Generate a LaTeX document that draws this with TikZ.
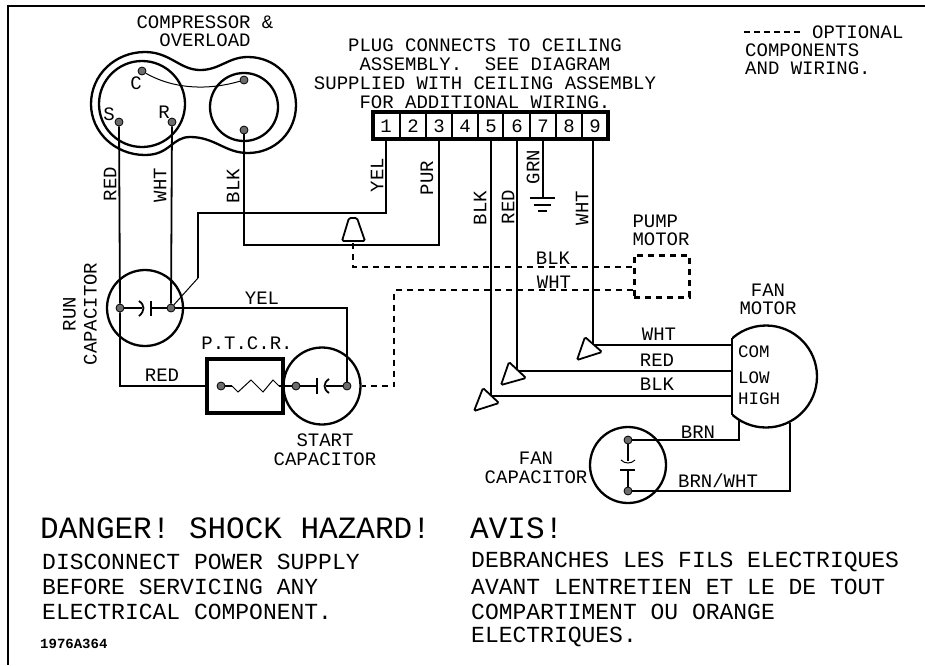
\documentclass[tikz,border=0pt]{standalone}
\usepackage{fontspec}
\setmainfont{Liberation Mono}
\usetikzlibrary{calc,arrows}
\tikzset{
  wire/.style={line width=1.8pt},
  thinwire/.style={line width=1pt},
  opt/.style={line width=1.8pt,dash pattern=on 6pt off 5pt},
  lobe/.style={circle,draw,line width=2.3pt,inner sep=0pt},
  term/.style={circle,draw,line width=0.8pt,fill=gray!85!black,inner sep=0pt,minimum size=8pt},
  plug/.style={line width=1.8pt,rounded corners=1.5pt,fill=white},
  lbl/.style={inner sep=0pt,font=\fontsize{19}{20}\selectfont,align=center},
  sidelbl/.style={lbl,rotate=90},
  motorlbl/.style={lbl,anchor=west,font=\fontsize{17.5}{19}\selectfont},
  warn/.style={inner sep=0pt,anchor=west,font=\fontsize{23}{25}\selectfont},
  warnbig/.style={inner sep=0pt,anchor=west,font=\fontsize{31}{33}\selectfont},
}
\begin{document}
\begin{tikzpicture}[x=1pt,y=-1pt]
  \useasboundingbox (0,0) rectangle (925,665);
  % frame
  \coordinate (fa) at (925,6);
  \coordinate (fb) at (8,6);
  \coordinate (fc) at (8,665);
  \draw[line width=2.4pt] (fa) -- (fb) -- (fc);
  % compressor
  \draw[line width=2.3pt] (145,52) .. controls (170,52) and (180,70) .. (200,70)
    .. controls (220,70) and (228,57) .. (248,57)
    .. controls (275,57) and (296,78) .. (296,105)
    .. controls (296,132) and (275,153) .. (248,153)
    .. controls (225,153) and (215,137) .. (190,137)
    .. controls (172,137) and (170,155) .. (145,155)
    .. controls (115,155) and (91,132) .. (91,104)
    .. controls (91,75) and (115,52) .. (145,52) -- cycle;
  \node[lobe,minimum size=86pt](compl)at(142,104){};
  \node[lobe,minimum size=68pt](compr)at(244,107){};
  \node[term](tc)at(142,71){};
  \node[term](ts)at(119,122){};
  \node[term](tr)at(172,122){};
  \node[term](tp)at(244,80){};
  \node[term](tb)at(244,130){};
  \draw[thinwire] (tc) .. controls (175,90) and (210,90) .. (tp);
  % capacitors
  \node[lobe,minimum size=76pt](runcap)at(145,308){};
  \node[term](rl)at(120,308){};
  \node[term](rr)at(171,308){};
  \node[lobe,minimum size=77pt](startcap)at(322,386){};
  \node[term](sl)at(296,386){};
  \node[term](sr)at(347,386){};
  \node[lobe,minimum size=76pt](fancap)at(628,465){};
  \node[term](ft)at(628,440){};
  \node[term](fb2)at(628,491){};
  % capacitor plates
  \coordinate (rp) at (151,308);
  \coordinate (rq) at (142,308);
  \draw[wire] (rl) -- (rq);
  \draw[wire] (rp) -- (rr);
  \draw[wire] (151,301) -- (151,316);
  \draw[wire] (139,301) .. controls (145,305) and (145,311) .. (139,316);
  \coordinate (sp) at (317,386);
  \coordinate (sq) at (326,386);
  \draw[wire] (sl) -- (sp);
  \draw[wire] (sq) -- (sr);
  \draw[wire] (317,378) -- (317,394);
  \draw[wire] (329,379) .. controls (323,383) and (323,389) .. (329,393);
  \coordinate (fp) at (628,470);
  \coordinate (fq) at (628,461);
  \draw[wire] (ft) -- (fq);
  \draw[wire] (fp) -- (fb2);
  \draw[wire] (620,470) -- (635,470);
  \draw[thinwire] (621,460) .. controls (625,464) and (631,464) .. (635,460);
  % ptcr
  \node[draw,line width=3.4pt,minimum width=76pt,minimum height=54pt,inner sep=0pt](ptcr)at(245,386){};
  \node[term](pl)at(221,386){};
  \draw[wire] (pl) -- (232,386);
  \draw[thinwire,line cap=round] (232,386) -- (238,392) -- (251,380) -- (263,392) -- (273,380) -- (279,386);
  \draw[wire] (279,386) -- (sl);
  % plug strip
  \node[draw,line width=3.2pt,minimum width=235pt,minimum height=27pt,inner sep=0pt](strip)at(490.5,125.5){};
  \foreach \dv in {400,426,452,478,503,530,556,582}
    \draw[line width=2.4pt] (\dv,112) -- (\dv,139);
  \foreach \num/\px in {1/386,2/413,3/439,4/465,5/491,6/517,7/543,8/569,9/595}
    \node[lbl](pin\num)at(\px,126){\num};
  % wiring
  \coordinate (pa) at (386,139);
  \coordinate (pb) at (439,139);
  \coordinate (pc) at (491,139);
  \coordinate (pd) at (517,139);
  \coordinate (pe) at (543,139);
  \coordinate (pf) at (593,139);
  \coordinate (gnd) at (543,198);
  \coordinate (yc) at (198,278);
  \coordinate (yd) at (386,213);
  \coordinate (be) at (439,245);
  \coordinate (mc) at (732,345);
  \coordinate (md) at (732,371);
  \coordinate (me) at (732,396);
  \coordinate (mf) at (739,420);
  \coordinate (mg) at (790,423);
  \draw[wire] (ts) -- (rl) -- (120,386) -- (ptcr.west|-pl);
  \draw[wire] (tr) -- (rr);
  \draw[thinwire] (rr) -- (yc);
  \draw[wire] (yc) -- (198,213) -- (yd) -- (pa);
  \draw[wire] (tb) -- (244,245) -- (be) -- (pb);
  \draw[wire] (rr) -- (347,308) -- (sr);
  \draw[wire] (pe) -- (gnd);
  \draw[wire] (530,198) -- (555,198);
  \draw[wire] (534,205) -- (551,205);
  \draw[wire] (538,211) -- (547,211);
  \draw[wire] (pf) -- (593,345) -- (mc);
  \draw[wire] (pd) -- (517,371) -- (md);
  \draw[wire] (pc) -- (491,396) -- (me);
  \draw[wire] (ft) -| (mf);
  \draw[wire] (fb2) -| (mg);
  % plugs
  \draw[plug] (349,218) -- (357,218) -- (365,241) -- (342,241) -- cycle;
  \draw[plug] (585,337) -- (577,360) -- (602,352) -- cycle;
  \draw[plug] (509,362) -- (501,385) -- (526,378) -- cycle;
  \draw[plug] (483,388) -- (474,411) -- (499,403) -- cycle;
  % optional
  \node[draw,line width=3pt,dash pattern=on 6pt off 5pt,minimum width=55pt,minimum height=42pt,inner sep=0pt](pump)at(661.5,276){};
  \coordinate (oa) at (353,243);
  \coordinate (ob) at (394,386);
  \draw[opt] (oa) -- (353,267) -- (pump.west|-0,267);
  \draw[opt] (pump.west|-0,290) -- (394,290) -- (ob) -- (startcap.east);
  \coordinate (la) at (744,32);
  \coordinate (lb) at (802,32);
  \draw[line width=1.8pt,dash pattern=on 6pt off 4pt] (la) -- (lb);
  % fan motor
  \begin{scope}
    \clip (732,320) rectangle (830,435);
    \node[lobe,minimum size=102pt](fanmotor)at(766,376.5){};
  \end{scope}
  \coordinate (ca) at (732,338);
  \coordinate (cb) at (732,415);
  \draw[line width=2.3pt] (ca) -- (cb);
  % labels
  \node[lbl](complbl)at(205,31){COMPRESSOR \&\\[-2pt]OVERLOAD};
  \node[lbl]at(136,83){C};
  \node[lbl]at(109,114){S};
  \node[lbl]at(164,112){R};
  \node[sidelbl]at(110,184){RED};
  \node[sidelbl]at(160,185){WHT};
  \node[sidelbl]at(233,186){BLK};
  \node[sidelbl]at(80,314){RUN\\[1pt]CAPACITOR};
  \node[lbl]at(262,298){YEL};
  \node[lbl]at(247,343){P.T.C.R.};
  \node[lbl]at(162,375){RED};
  \node[lbl]at(325,450){START\\[-1pt]CAPACITOR};
  \node[lbl]at(485,74){PLUG CONNECTS TO CEILING\\[-1pt]ASSEMBLY.\ \ SEE DIAGRAM\\[-1pt]SUPPLIED WITH CEILING ASSEMBLY\\[-1pt]FOR ADDITIONAL WIRING.};
  \node[sidelbl]at(377,175){YEL};
  \node[sidelbl]at(427,178){PUR};
  \node[sidelbl]at(480,208){BLK};
  \node[sidelbl]at(508,207){RED};
  \node[sidelbl]at(533,167){GRN};
  \node[sidelbl]at(582,208){WHT};
  \node[lbl,align=left]at(661,230){PUMP\\[-2pt]MOTOR};
  \node[lbl]at(553,258){BLK};
  \node[lbl]at(554,282){WHT};
  \node[lbl]at(768,299){FAN\\[-2pt]MOTOR};
  \node[lbl]at(659,334){WHT};
  \node[lbl]at(657,360){RED};
  \node[lbl]at(657,384){BLK};
  \node[lbl]at(698,432){BRN};
  \node[lbl]at(718,481){BRN/WHT};
  \node[lbl]at(536,468){FAN\\[-1pt]CAPACITOR};
  \node[motorlbl]at(738,352){COM};
  \node[motorlbl]at(738,378){LOW};
  \node[motorlbl]at(738,399){HIGH};
  \node[lbl,anchor=west]at(812,32){OPTIONAL};
  \node[lbl,anchor=west,align=left]at(745,59){COMPONENTS\\[-2pt]AND WIRING.};
  % warnings
  \node[warnbig]at(40,528){DANGER! SHOCK HAZARD!};
  \node[warnbig]at(470,528){AVIS!};
  \node[warn]at(42,562){DISCONNECT POWER SUPPLY};
  \node[warn]at(42,587){BEFORE SERVICING ANY};
  \node[warn]at(42,612){ELECTRICAL COMPONENT.};
  \node[warn]at(471,562){DEBRANCHES LES FILS ELECTRIQUES};
  \node[warn]at(471,587){AVANT LENTRETIEN ET LE DE TOUT};
  \node[warn]at(471,612){COMPARTIMENT OU ORANGE};
  \node[warn]at(471,637){ELECTRIQUES.};
  \node[inner sep=0pt,anchor=west,font=\fontsize{14}{15}\selectfont\bfseries]at(40,644){1976A364};
\end{tikzpicture}
\end{document}
